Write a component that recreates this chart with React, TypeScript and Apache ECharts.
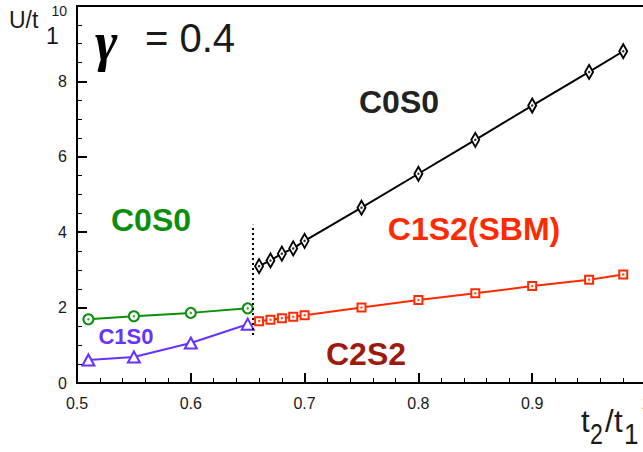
import React, { useEffect, useRef } from "react";
import * as echarts from "echarts";

// ---- data ----
const c0s0X = [0.66, 0.67, 0.68, 0.69, 0.70, 0.75, 0.80, 0.85, 0.90, 0.95, 0.98];
const c0s0Y = [3.1, 3.25, 3.43, 3.57, 3.77, 4.65, 5.55, 6.45, 7.36, 8.25, 8.8];
const c1s2X = [0.66, 0.67, 0.68, 0.69, 0.70, 0.75, 0.80, 0.85, 0.90, 0.95, 0.98];
const c1s2Y = [1.64, 1.68, 1.72, 1.76, 1.8, 2.0, 2.2, 2.38, 2.57, 2.74, 2.88];
const greenX = [0.51, 0.55, 0.6, 0.65];
const greenY = [1.69, 1.77, 1.86, 1.98];
const purpleX = [0.51, 0.55, 0.6, 0.65];
const purpleY = [0.61, 0.69, 1.06, 1.56];
const boundaryX = 0.654;
const boundaryY = [1.27, 4.2];
const xTicks = [0.5, 0.6, 0.7, 0.8, 0.9, 1.0];
const yTicks = [0, 2, 4, 6, 8, 10];

const pairs = (xs: number[], ys: number[]) => xs.map((x, i) => [x, ys[i]]);

const FONT = "'Liberation Sans', Arial, Helvetica, sans-serif";

export default function App() {
  const ref = useRef<HTMLDivElement>(null);
  useEffect(() => {
    if (!ref.current) return;
    const chart = echarts.init(ref.current, null, { renderer: "svg" });
    const dotSeries = (data: number[][], color: string) => ({
      type: "scatter",
      data,
      symbol: "circle",
      symbolSize: 2.5,
      itemStyle: { color },
      z: 5,
      silent: true,
    });
    const txt = (
      text: string,
      x: number,
      y: number,
      font: string,
      fill: string,
      align = "center",
      scaleX = 1
    ) => ({
      type: "text",
      x,
      y,
      scaleX,
      style: { text, font, fill, textAlign: align, textVerticalAlign: "middle" },
      z: 10,
    });
    chart.setOption({
      animation: false,
      backgroundColor: "#fff",
      grid: {
        left: 77,
        top: 6,
        width: 569,
        height: 377,
        show: true,
        borderColor: "#000",
        borderWidth: 2,
        containLabel: false,
        outerBoundsMode: "none",
      },
      xAxis: {
        type: "value",
        min: xTicks[0],
        max: xTicks[xTicks.length - 1],
        interval: 0.1,
        axisLine: { show: true, lineStyle: { color: "#000", width: 2 } },
        axisTick: { show: true, inside: true, length: 10, lineStyle: { color: "#000", width: 2 } },
        minorTick: { show: true, splitNumber: 5, length: 5, lineStyle: { color: "#000", width: 1 } },
        splitLine: { show: false },
        minorSplitLine: { show: false },
        axisLabel: {
          show: true,
          margin: 12,
          color: "#1a1a1a",
          fontSize: 16,
          fontFamily: FONT,
          showMaxLabel: true,
          hideOverlap: false,
          formatter: (v: number) => (Math.abs(v - 1) < 1e-9 ? "1" : v.toFixed(1)),
        },
      },
      yAxis: {
        type: "value",
        min: yTicks[0],
        max: yTicks[yTicks.length - 1],
        interval: 2,
        axisLine: { show: true, lineStyle: { color: "#000", width: 2 } },
        axisTick: { show: true, inside: true, length: 10, lineStyle: { color: "#000", width: 2 } },
        minorTick: { show: true, splitNumber: 4, length: 5, lineStyle: { color: "#000", width: 1 } },
        splitLine: { show: false },
        minorSplitLine: { show: false },
        axisLabel: {
          show: true,
          margin: 10,
          color: "#1a1a1a",
          fontSize: 16,
          fontFamily: FONT,
          formatter: (v: number) => (v === 10 ? "{top|10}" : String(v)),
          rich: {
            top: { fontSize: 14, fontFamily: FONT, color: "#1a1a1a", padding: [10, 0, 0, 0] },
          },
        },
      },
      series: [
        {
          type: "line",
          data: pairs(c0s0X, c0s0Y),
          symbol: "diamond",
          symbolSize: [8, 14],
          showAllSymbol: true,
          lineStyle: { color: "#000", width: 2 },
          itemStyle: { color: "#fff", borderColor: "#000", borderWidth: 2 },
          z: 3,
          markLine: {
            silent: true,
            symbol: "none",
            label: { show: false },
            lineStyle: { color: "#000", width: 2, type: [2, 3] },
            data: [[{ coord: [boundaryX, boundaryY[0]] }, { coord: [boundaryX, boundaryY[1]] }]],
          },
        },
        dotSeries(pairs(c0s0X, c0s0Y), "#000"),
        {
          type: "line",
          data: pairs(c1s2X, c1s2Y),
          symbol: "rect",
          symbolSize: 8,
          showAllSymbol: true,
          lineStyle: { color: "#ff2a00", width: 2 },
          itemStyle: { color: "#fff", borderColor: "#ff2a00", borderWidth: 2 },
          z: 3,
        },
        dotSeries(pairs(c1s2X, c1s2Y), "#ff2a00"),
        {
          type: "line",
          data: pairs(greenX, greenY),
          symbol: "circle",
          symbolSize: 10,
          showAllSymbol: true,
          lineStyle: { color: "#0a8f0a", width: 2 },
          itemStyle: { color: "#fff", borderColor: "#0a8f0a", borderWidth: 2 },
          z: 3,
        },
        dotSeries(pairs(greenX, greenY), "#0a8f0a"),
        {
          type: "line",
          data: pairs(purpleX, purpleY),
          symbol: "triangle",
          symbolSize: [12, 11],
          showAllSymbol: true,
          lineStyle: { color: "#6633ff", width: 2 },
          itemStyle: { color: "#fff", borderColor: "#6633ff", borderWidth: 2 },
          z: 3,
        },
      ],
      graphic: [
        txt("C0S0", 399, 102, `bold 32px ${FONT}`, "#222"),
        txt("C0S0", 151, 220, `bold 32px ${FONT}`, "#0a8f0a"),
        txt("C1S2(SBM)", 474, 229, `bold 32px ${FONT}`, "#ff2a00"),
        txt("C2S2", 366, 354, `bold 32px ${FONT}`, "#9e1a0e"),
        txt("C1S0", 126, 336, `bold 22px ${FONT}`, "#6633ff"),
        txt("\u03b3", 95, 42, `italic bold 54px 'Liberation Serif', 'Times New Roman', serif`, "#000", "left"),
        txt("= 0.4", 145, 38, `40px ${FONT}`, "#1a1a1a", "left"),
        txt("U/t", 9, 20, `23px ${FONT}`, "#1a1a1a", "left"),
        txt("1", 46, 36, `23px ${FONT}`, "#1a1a1a", "left"),
        txt("t", 581, 421, `31px ${FONT}`, "#1a1a1a", "left"),
        txt("2", 590, 434, `29px ${FONT}`, "#1a1a1a", "left", 0.8),
        txt("/", 605, 421, `31px ${FONT}`, "#1a1a1a", "left"),
        txt("t", 614, 421, `31px ${FONT}`, "#1a1a1a", "left"),
        txt("1", 624, 434, `29px ${FONT}`, "#1a1a1a", "left", 0.9),
      ],
    });
    return () => chart.dispose();
  }, []);
  return (
    <div
      ref={ref}
      style={{ position: "fixed", left: 0, top: 0, width: 643, height: 452, background: "#fff" }}
    />
  );
}
